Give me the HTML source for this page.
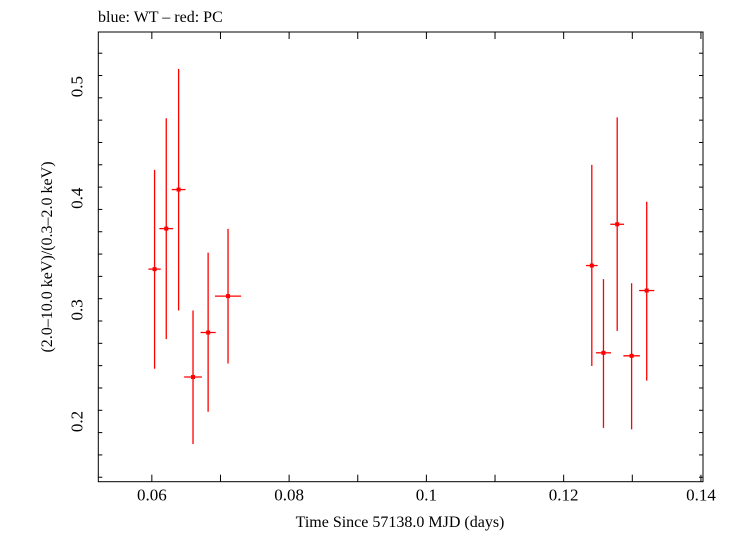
<!DOCTYPE html>
<html><head><meta charset="utf-8"><style>
body{margin:0;background:#fff;}
svg text{font-family:"Liberation Serif",serif;fill:#000;}
</style></head><body>
<svg width="732" height="532" viewBox="0 0 732 532" xmlns="http://www.w3.org/2000/svg">
<text x="98" y="22" font-size="16">blue: WT – red: PC</text>
<rect x="98.3" y="32" width="604.7" height="449.7" fill="none" stroke="#000" stroke-width="1"/>
<g id="ticks"></g>
<g id="marks"></g>
<text x="400" y="527" font-size="16" text-anchor="middle">Time Since 57138.0 MJD (days)</text>
<text transform="translate(52,257) rotate(-90)" font-size="16" text-anchor="middle">(2.0–10.0 keV)/(0.3–2.0 keV)</text>
</svg>
<script>
const times = [0.0604,0.0621,0.0639,0.0660,0.0682,0.0711,0.1241,0.1258,0.1278,0.1299,0.1321];
const timeErr = [0.0009,0.0010,0.0010,0.0013,0.0011,0.0019,0.00085,0.0011,0.0010,0.0012,0.0011];
const ratios = [0.3365,0.3728,0.4078,0.2398,0.2797,0.3123,0.3397,0.2615,0.3767,0.2588,0.3173];
const ratioHi = [0.4254,0.4717,0.5159,0.2994,0.3513,0.3726,0.4299,0.3275,0.4725,0.3238,0.3969];
const ratioLo = [0.2472,0.2738,0.2994,0.1798,0.2087,0.2519,0.2497,0.1942,0.2812,0.1929,0.2366];
const xTickLabels = ["0.06","0.08","0.1","0.12","0.14"];
const yTickLabels = ["0.2","0.3","0.4","0.5"];
const NS="http://www.w3.org/2000/svg";
const X0=98.3,X1=703,Y0=32,Y1=481.7,XMIN=0.0522,XMAX=0.1403,YMIN=0.146,YMAX=0.5490;
function xs(v){return X0+(v-XMIN)/(XMAX-XMIN)*(X1-X0);}
function ys(v){return Y1-(v-YMIN)/(YMAX-YMIN)*(Y1-Y0);}
function mk(tag,attrs,parent){const e=document.createElementNS(NS,tag);for(const k in attrs)e.setAttribute(k,attrs[k]);parent.appendChild(e);return e;}
const tg=document.getElementById('ticks');
for(let i=0;i<=8;i++){const v=0.06+i*0.01;const x=xs(v);
 let t=mk('line',{x1:x,x2:x,y1:Y1,y2:Y1-7,stroke:'#000'},tg);
 
 
 t=mk('line',{x1:x,x2:x,y1:Y0,y2:Y0+7,stroke:'#000'},tg);
 
 }
xTickLabels.forEach(l=>{const t=mk('text',{x:xs(parseFloat(l)),y:Y1+19,'font-size':17,'text-anchor':'middle'},tg);t.textContent=l;
 
 });
for(let i=0;i<=19;i++){const v=0.15+i*0.02;const y=ys(v);if(y<Y0||y>Y1)continue;const major=Math.abs((v*10)-Math.round(v*10))<1e-6;const L=major?7:4;
 let t=mk('line',{x1:X0,x2:X0+L,y1:y,y2:y,stroke:'#000'},tg);
 
 
 t=mk('line',{x1:X1,x2:X1-L,y1:y,y2:y,stroke:'#000'},tg);
 
 }
yTickLabels.forEach(l=>{const y=ys(parseFloat(l));const t=mk('text',{transform:`translate(${X0-16},${y}) rotate(-90)`,'font-size':17,'text-anchor':'middle'},tg);t.textContent=l;
 
 });
const mg=document.getElementById('marks');
times.forEach((t,i)=>{const g=mk('g',{},mg);
 
 
 mk('line',{x1:xs(t),x2:xs(t),y1:ys(ratioHi[i]),y2:ys(ratioLo[i]),stroke:'#f00','stroke-width':1.3},g);
 mk('line',{x1:xs(t-timeErr[i]),x2:xs(t+timeErr[i]),y1:ys(ratios[i]),y2:ys(ratios[i]),stroke:'#f00','stroke-width':1.3},g);
 mk('rect',{x:xs(t)-2,y:ys(ratios[i])-2,width:4,height:4,fill:'#f00'},g);});
</script>
</body></html>
